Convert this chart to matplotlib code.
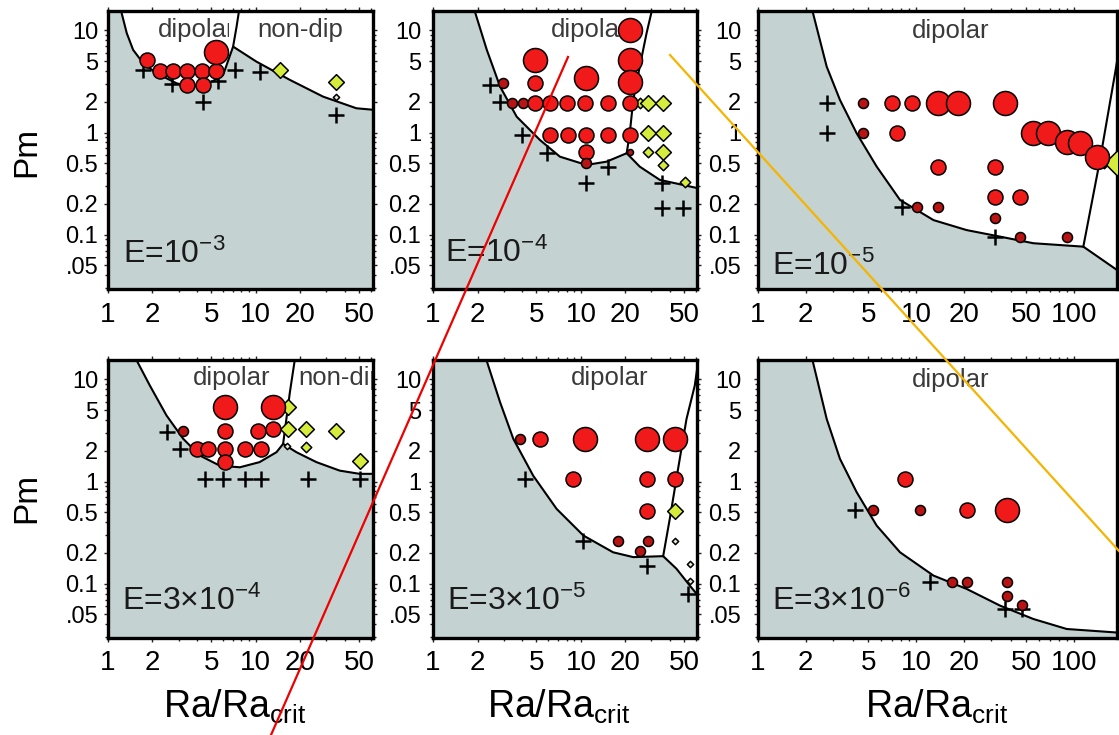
import matplotlib
matplotlib.use('Agg')
import matplotlib.pyplot as plt
import numpy as np
from matplotlib.lines import Line2D
from matplotlib.patches import Rectangle
from matplotlib.ticker import LogLocator, NullFormatter

plt.rcParams['font.family'] = ['Liberation Sans', 'DejaVu Sans']
plt.rcParams['mathtext.fontset'] = 'custom'
plt.rcParams['mathtext.rm'] = 'Liberation Sans'
plt.rcParams['mathtext.it'] = 'Liberation Sans:italic'
plt.rcParams['mathtext.bf'] = 'Liberation Sans:bold'

# ---------------- data ----------------
# size classes: 0 tiny, 1 small, 2 medium, 3 large
# Panel 1: E = 1e-3
p1_red_ra = [1.83, 2.24, 2.76, 3.40, 4.30, 5.42, 3.40, 4.40, 5.42]
p1_red_pm = [5.1, 4.0, 4.0, 4.0, 4.0, 4.0, 2.9, 2.9, 6.2]
p1_red_sz = [2, 2, 2, 2, 2, 2, 2, 2, 3]
p1_yel_ra = [14.5, 35.1, 35.1]
p1_yel_pm = [4.1, 3.16, 2.25]
p1_yel_sz = [2, 2, 0]
p1_crs_ra = [1.73, 2.69, 4.40, 5.56, 7.21, 10.6, 35.1]
p1_crs_pm = [4.1, 3.0, 2.0, 3.2, 4.1, 3.95, 1.5]
p1_left_ra = [1.22, 1.34, 1.48, 1.73, 2.13, 2.91, 3.58, 4.64, 6.01, 7.02]
p1_left_pm = [16.0, 9.4, 6.45, 4.78, 3.81, 3.04, 2.82, 2.93, 3.67, 6.95]
p1_sep_ra = [7.02, 7.41, 7.72]
p1_sep_pm = [6.95, 10.9, 16.0]
p1_low_ra = [7.02, 10.1, 17.0, 28.5, 47.9, 63.0]
p1_low_pm = [6.95, 4.95, 3.28, 2.25, 1.73, 1.67]

# Panel 2: E = 1e-4
p2_red_ra = [3.40, 4.08, 4.89, 6.17, 8.00, 10.6, 15.3, 2.99, 4.89, 4.89, 10.9,
             6.17, 8.2, 10.9, 15.3, 10.9, 10.9, 21.4, 21.4, 21.4, 21.4, 21.4, 21.4]
p2_red_pm = [1.94, 1.94, 1.94, 1.94, 1.94, 1.94, 1.94, 3.04, 3.04, 5.15, 3.41,
             0.95, 0.95, 0.95, 0.95, 0.65, 0.50, 10.1, 5.15, 3.16, 1.94, 0.95, 0.65]
p2_red_sz = [1, 1, 2, 2, 2, 2, 2, 1, 2, 3, 3,
             2, 2, 2, 2, 2, 1, 3, 3, 3, 2, 2, 0]
p2_yel_ra = [25.0, 28.5, 36.0, 28.5, 36.0, 28.5, 36.0, 36.0, 50.4]
p2_yel_pm = [1.94, 1.94, 1.94, 0.985, 0.985, 0.651, 0.651, 0.482, 0.331]
p2_yel_sz = [1, 2, 2, 2, 2, 1, 2, 1, 1]
p2_crs_ra = [2.43, 2.84, 3.97, 5.87, 10.9, 15.3, 35.1, 35.1, 49.1]
p2_crs_pm = [2.93, 2.01, 0.948, 0.628, 0.319, 0.464, 0.324, 0.182, 0.182]
p2_left_ra = [1.90, 2.31, 2.84, 3.68, 5.28, 7.21, 10.9, 14.9, 20.4]
p2_left_pm = [16.0, 6.45, 2.82, 1.43, 0.847, 0.581, 0.482, 0.519, 0.628]
p2_sep_ra = [20.4, 21.4, 22.6, 25.0, 27.8, 30.3]
p2_sep_pm = [0.628, 0.985, 2.09, 4.43, 9.4, 16.0]
p2_low_ra = [20.4, 25.0, 34.2, 49.1, 62.0]
p2_low_pm = [0.628, 0.464, 0.344, 0.307, 0.285]

# Panel 3: E = 1e-5
p3_red_ra = [4.64, 7.02, 9.40, 13.8, 18.5, 36.6, 4.64, 7.55, 55.3, 68.8, 89.9,
             109, 139, 13.8, 31.6, 31.6, 45.5, 10.1, 13.8, 31.6, 45.5, 89.9]
p3_red_pm = [1.94, 1.94, 1.94, 1.94, 1.94, 1.94, 0.985, 0.985, 0.985, 0.985, 0.815,
             0.787, 0.581, 0.464, 0.464, 0.236, 0.236, 0.188, 0.188, 0.145, 0.0958, 0.0958]
p3_red_sz = [1, 2, 2, 3, 3, 3, 1, 2, 3, 3, 3,
             3, 3, 2, 2, 2, 2, 1, 1, 1, 1, 1]
p3_yel_ra = [155, 186]
p3_yel_pm = [0.50, 0.50]
p3_yel_sz = [1, 3]
p3_crs_ra = [2.72, 2.72, 8.12, 31.6]
p3_crs_pm = [1.94, 0.985, 0.188, 0.0958]
p3_left_ra = [2.20, 2.72, 3.30, 4.21, 5.64, 7.92, 12.9, 20.9, 34.0, 55.3, 114.5]
p3_left_pm = [16.0, 4.43, 2.09, 0.985, 0.464, 0.219, 0.139, 0.111, 0.0958, 0.0825, 0.0764]
p3_sep_ra = [114.5, 146, 182, 212]
p3_sep_pm = [0.0764, 0.54, 3.84, 16.0]
p3_low_ra = [114.5, 200]
p3_low_pm = [0.0764, 0.042]

# Panel 4: E = 3e-4
p4_red_ra = [6.17, 13.1, 3.23, 6.17, 10.4, 13.1, 3.97, 4.76, 6.17, 8.43, 10.9, 6.17]
p4_red_pm = [5.35, 5.35, 3.16, 3.16, 3.16, 3.28, 2.09, 2.09, 2.09, 2.09, 2.09, 1.55]
p4_red_sz = [3, 3, 1, 2, 2, 2, 2, 2, 2, 2, 2, 2]
p4_yel_ra = [16.5, 16.5, 22.0, 35.1, 22.0, 50.4, 16.2]
p4_yel_pm = [5.35, 3.28, 3.28, 3.16, 2.17, 1.60, 2.25]
p4_yel_sz = [2, 2, 2, 2, 1, 2, 0]
p4_crs_ra = [2.49, 3.07, 4.52, 6.01, 8.43, 10.9, 22.6, 50.4]
p4_crs_pm = [3.04, 2.09, 1.06, 1.06, 1.06, 1.06, 1.06, 1.06]
p4_left_ra = [1.54, 1.92, 2.49, 3.23, 4.18, 5.71, 7.80, 10.6, 13.8, 15.3]
p4_left_pm = [16.0, 8.71, 4.43, 2.62, 1.80, 1.43, 1.38, 1.55, 1.94, 2.34]
p4_sep_ra = [15.3, 16.1, 17.0, 18.4]
p4_sep_pm = [2.34, 4.11, 7.50, 16.0]
p4_low_ra = [15.3, 18.8, 25.7, 36.9, 50.4, 63.0]
p4_low_pm = [2.34, 1.94, 1.55, 1.28, 1.19, 1.19]

# Panel 5: E = 3e-5
p5_red_ra = [3.87, 5.28, 10.6, 27.8, 43.2, 8.87, 27.8, 43.2, 27.8, 17.9, 28.5, 25.0]
p5_red_pm = [2.62, 2.62, 2.62, 2.62, 2.62, 1.06, 1.06, 1.06, 0.519, 0.264, 0.264, 0.211]
p5_red_sz = [1, 2, 3, 3, 3, 2, 2, 2, 2, 1, 1, 1]
p5_yel_ra = [43.2, 43.2, 54.5, 54.5]
p5_yel_pm = [0.519, 0.264, 0.156, 0.107]
p5_yel_sz = [2, 0, 0, 0]
p5_crs_ra = [4.18, 10.4, 27.8, 53.1]
p5_crs_pm = [1.06, 0.264, 0.150, 0.0794]
p5_left_ra = [2.28, 2.84, 3.49, 4.76, 6.85, 10.4, 16.5, 22.6, 36.0]
p5_left_pm = [16.0, 5.98, 2.62, 1.14, 0.540, 0.296, 0.203, 0.182, 0.186]
p5_sep_ra = [36.0, 39.9, 45.4, 51.8, 58.9, 62.5]
p5_sep_pm = [0.186, 0.431, 1.33, 4.11, 8.71, 16.0]
p5_low_ra = [36.0, 44.3, 54.5, 62.0]
p5_low_pm = [0.186, 0.140, 0.0958, 0.0764]

# Panel 6: E = 3e-6
p6_red_ra = [8.52, 5.37, 10.6, 20.9, 37.5, 16.8, 20.9, 37.5, 37.5, 46.7]
p6_red_pm = [1.06, 0.531, 0.531, 0.531, 0.531, 0.103, 0.103, 0.103, 0.0764, 0.062]
p6_red_sz = [2, 1, 1, 2, 3, 1, 1, 1, 1, 1]
p6_yel_ra = []
p6_yel_pm = []
p6_yel_sz = []
p6_crs_ra = [4.11, 12.3, 36.6, 46.7]
p6_crs_pm = [0.531, 0.103, 0.0566, 0.057]
p6_left_ra = [2.20, 2.72, 3.30, 4.21, 5.64, 7.92, 12.9, 20.9, 34.0, 55.3, 89.9, 200]
p6_left_pm = [16.0, 4.11, 1.67, 0.787, 0.370, 0.203, 0.120, 0.0889, 0.0610, 0.0451, 0.0360, 0.033]

e_labels = [r'E=10$^{-3}$', r'E=10$^{-4}$', r'E=10$^{-5}$',
            r'E=3×10$^{-4}$', r'E=3×10$^{-5}$', r'E=3×10$^{-6}$']
x_ticks_short = [1, 2, 5, 10, 20, 50]
x_ticks_long = [1, 2, 5, 10, 20, 50, 100]
y_ticks = [0.05, 0.1, 0.2, 0.5, 1, 2, 5, 10]
y_ticklabels = ['.05', '0.1', '0.2', '0.5', '1', '2', '5', '10']

# ---------------- styling ----------------
GRAY = '#c4d2d2'
RED = '#f01a1a'
RED_SMALL = '#b81414'
YEL = '#d6ec3c'
YEL_TINY = '#e6ecd0'
DIAM_PX = {0: 6, 1: 10, 2: 15, 3: 24}

fig = plt.figure(figsize=(11.19, 7.35), dpi=100)

col_left = [0.0965, 0.3870, 0.6774]
col_w = [0.2368, 0.2359, 0.3208]
row_bot = [0.6068, 0.1320]
row_h = 0.3782
xlims = [(1.0, 62.0), (1.0, 61.0), (1.0, 187.0)]
ylim = (0.0294, 15.5)
ypads = [4.0, 5.5, 9.0]

panels = [
    dict(red=(p1_red_ra, p1_red_pm, p1_red_sz), yel=(p1_yel_ra, p1_yel_pm, p1_yel_sz),
         crs=(p1_crs_ra, p1_crs_pm), left=(p1_left_ra, p1_left_pm),
         sep=(p1_sep_ra, p1_sep_pm), low=(p1_low_ra, p1_low_pm)),
    dict(red=(p2_red_ra, p2_red_pm, p2_red_sz), yel=(p2_yel_ra, p2_yel_pm, p2_yel_sz),
         crs=(p2_crs_ra, p2_crs_pm), left=(p2_left_ra, p2_left_pm),
         sep=(p2_sep_ra, p2_sep_pm), low=(p2_low_ra, p2_low_pm)),
    dict(red=(p3_red_ra, p3_red_pm, p3_red_sz), yel=(p3_yel_ra, p3_yel_pm, p3_yel_sz),
         crs=(p3_crs_ra, p3_crs_pm), left=(p3_left_ra, p3_left_pm),
         sep=(p3_sep_ra, p3_sep_pm), low=(p3_low_ra, p3_low_pm)),
    dict(red=(p4_red_ra, p4_red_pm, p4_red_sz), yel=(p4_yel_ra, p4_yel_pm, p4_yel_sz),
         crs=(p4_crs_ra, p4_crs_pm), left=(p4_left_ra, p4_left_pm),
         sep=(p4_sep_ra, p4_sep_pm), low=(p4_low_ra, p4_low_pm)),
    dict(red=(p5_red_ra, p5_red_pm, p5_red_sz), yel=(p5_yel_ra, p5_yel_pm, p5_yel_sz),
         crs=(p5_crs_ra, p5_crs_pm), left=(p5_left_ra, p5_left_pm),
         sep=(p5_sep_ra, p5_sep_pm), low=(p5_low_ra, p5_low_pm)),
    dict(red=(p6_red_ra, p6_red_pm, p6_red_sz), yel=(p6_yel_ra, p6_yel_pm, p6_yel_sz),
         crs=(p6_crs_ra, p6_crs_pm), left=(p6_left_ra, p6_left_pm),
         sep=None, low=None),
]

# text placements (axes fraction)
e_pos = [(0.057, 0.094), (0.045, 0.097), (0.039, 0.05),
         (0.053, 0.10), (0.053, 0.10), (0.039, 0.10)]
dip_pos = [(0.189, 0.906), (0.447, 0.906), (0.430, 0.903),
           (0.322, 0.910), (0.522, 0.910), (0.430, 0.903)]
nondip_pos = {0: (0.562, 0.906), 3: (0.717, 0.910)}
dip_clip = {0: 0.455}
LABEL_FS = 18.5


def msize(px):
    return (px * 0.72) ** 2


for i, p in enumerate(panels):
    r, c = divmod(i, 3)
    ax = fig.add_axes([col_left[c], row_bot[r], col_w[c], row_h])
    ax.set_xscale('log')
    ax.set_yscale('log')
    xmin, xmax = xlims[c]
    ax.set_xlim(xmin, xmax)
    ax.set_ylim(*ylim)

    # shaded (no dynamo) region below boundary
    bx = list(p['left'][0])
    by = list(p['left'][1])
    if p['low'] is not None:
        bx += list(p['low'][0][1:])
        by += list(p['low'][1][1:])
    poly_x = [xmin * 0.5] + bx + [max(bx[-1], xmax * 2), max(bx[-1], xmax * 2), xmin * 0.5]
    poly_y = [by[0]] + by + [by[-1], ylim[0] * 0.5, ylim[0] * 0.5]
    ax.fill(poly_x, poly_y, color=GRAY, lw=0, zorder=0)

    ax.plot(bx, by, color='k', lw=1.5, zorder=1, solid_joinstyle='round')
    if p['sep'] is not None:
        ax.plot(p['sep'][0], p['sep'][1], color='k', lw=1.5, zorder=1)

    # labels
    t = ax.text(dip_pos[i][0], dip_pos[i][1], 'dipolar', transform=ax.transAxes,
                fontsize=LABEL_FS, color='#3a3a3a', ha='left', va='baseline', zorder=2)
    if i in dip_clip:
        rect = Rectangle((0, 0), dip_clip[i], 1, transform=ax.transAxes)
        t.set_clip_path(rect)
        t.set_clip_on(True)
    if i in nondip_pos:
        ax.text(nondip_pos[i][0], nondip_pos[i][1], 'non-dip', transform=ax.transAxes,
                fontsize=LABEL_FS, color='#3a3a3a', ha='left', va='baseline', zorder=2,
                clip_on=True)
    ax.text(e_pos[i][0], e_pos[i][1], e_labels[i], transform=ax.transAxes,
            fontsize=23, color='#1a1a1a', ha='left', va='baseline', zorder=2)

    # crosses
    ax.plot(p['crs'][0], p['crs'][1], linestyle='none', marker='+', color='k',
            markersize=11, markeredgewidth=1.8, zorder=3)
    # yellow diamonds (non-dipolar)
    yr, yp, ys = p['yel']
    for xx, yy, ss in zip(yr, yp, ys):
        fc = YEL if ss > 0 else YEL_TINY
        ax.scatter([xx], [yy], s=msize(DIAM_PX[ss] / 1.35), marker='D', facecolor=fc,
                   edgecolor='k', linewidths=1.1, zorder=4)
    # red circles (dipolar)
    rr, rp, rs = p['red']
    for xx, yy, ss in zip(rr, rp, rs):
        fc = RED if ss >= 2 else RED_SMALL
        ax.scatter([xx], [yy], s=msize(DIAM_PX[ss]), marker='o', facecolor=fc,
                   edgecolor='k', linewidths=1.1, zorder=5)

    # axes styling
    for sp in ax.spines.values():
        sp.set_linewidth(2.4)
    xt = x_ticks_long if c == 2 else x_ticks_short
    ax.set_xticks(xt)
    ax.set_xticklabels([str(v) for v in xt])
    ax.xaxis.set_minor_locator(LogLocator(subs=np.arange(2, 10)))
    ax.xaxis.set_minor_formatter(NullFormatter())
    ax.set_yticks(y_ticks)
    ax.set_yticklabels(y_ticklabels)
    ax.yaxis.set_minor_locator(LogLocator(subs=np.arange(2, 10)))
    ax.yaxis.set_minor_formatter(NullFormatter())
    ax.tick_params(which='both', direction='out', top=True, right=True,
                   width=1.0, color='#222222')
    ax.tick_params(which='major', length=3)
    ax.tick_params(which='minor', length=2)
    ax.tick_params(axis='x', which='major', labelsize=20, pad=6)
    ax.tick_params(axis='y', which='major', labelsize=17, pad=ypads[c])

# axis titles
for yc in [152, 498]:
    fig.text(27 / 1119, 1 - yc / 735, 'Pm', rotation=90, fontsize=24,
             ha='center', va='center')
for xc in [235, 559, 937]:
    fig.text(xc / 1119, 1 - 718 / 735, r'Ra/Ra$_{\mathrm{crit}}$', fontsize=27,
             ha='center', va='baseline')

# overlay annotation lines present in the reference image
fig.add_artist(Line2D([568 / 1119, 271 / 1119], [1 - 57 / 735, 0.0],
                      transform=fig.transFigure, color='#ee0000', lw=1.6, zorder=20))
fig.add_artist(Line2D([670 / 1119, 1.0], [1 - 55 / 735, 1 - 551 / 735],
                      transform=fig.transFigure, color='#f5b400', lw=1.6, zorder=20))

fig.savefig('out.png', dpi=100)
